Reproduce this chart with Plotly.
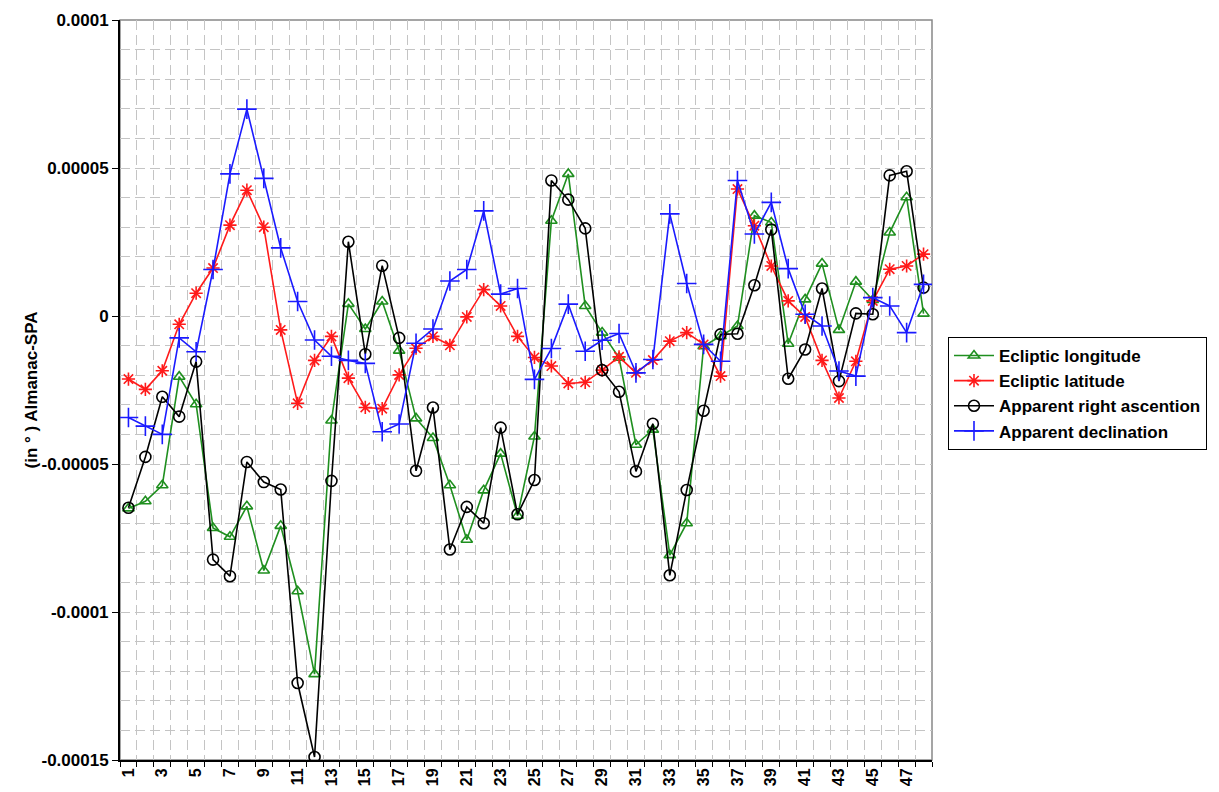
import plotly.graph_objects as go

# sample index 1..48, values in units of 1e-5 degrees
samples = list(range(1, 49))

ecliptic_longitude = [
    -6.5, -6.26, -5.72, -2.05, -2.98, -7.16, -7.46, -6.43, -8.6, -7.09,
    -9.3, -12.1, -3.53, 0.41, -0.44, 0.49, -1.17, -3.46, -4.12, -5.72,
    -7.56, -5.89, -4.65, -6.75, -4.07, 3.22, 4.8, 0.34, -0.56, -1.41,
    -4.35, -3.84, -8.08, -7.0, -1.02, -0.68, -0.34, 3.39, 3.16, -0.94,
    0.56, 1.77, -0.47, 1.16, 0.54, 2.82, 4.01, 0.08,
]
ecliptic_latitude = [
    -2.13, -2.48, -1.85, -0.28, 0.77, 1.62, 3.07, 4.25, 3.0, -0.47,
    -2.95, -1.5, -0.69, -2.1, -3.09, -3.13, -1.99, -1.09, -0.69, -0.99,
    -0.03, 0.89, 0.34, -0.69, -1.4, -1.69, -2.28, -2.24, -1.83, -1.38,
    -1.92, -1.49, -0.85, -0.56, -0.96, -2.03, 4.29, 3.05, 1.69, 0.51,
    -0.03, -1.5, -2.77, -1.53, 0.51, 1.58, 1.69, 2.09,
]
right_ascension = [
    -6.48, -4.76, -2.73, -3.4, -1.54, -8.23, -8.79, -4.93, -5.61, -5.86,
    -12.4, -14.9, -5.57, 2.51, -1.29, 1.7, -0.74, -5.23, -3.09, -7.89,
    -6.45, -7.0, -3.77, -6.7, -5.54, 4.58, 3.93, 2.96, -1.83, -2.56,
    -5.25, -3.64, -8.76, -5.88, -3.2, -0.62, -0.6, 1.04, 2.92, -2.12,
    -1.13, 0.93, -2.2, 0.09, 0.06, 4.75, 4.89, 0.96,
]
declination = [
    -3.43, -3.72, -4.0, -0.74, -1.21, 1.57, 4.8, 6.99, 4.65, 2.3,
    0.49, -0.81, -1.36, -1.5, -1.6, -3.91, -3.65, -0.92, -0.44, 1.18,
    1.57, 3.55, 0.74, 0.93, -2.14, -1.1, 0.4, -1.19, -0.82, -0.59,
    -1.92, -1.47, 3.45, 1.1, -0.96, -1.53, 4.58, 2.77, 3.84, 1.6,
    0.06, -0.34, -1.86, -2.03, 0.62, 0.34, -0.56, 1.07,
]

scale = 1e-5
y_tickvals = [0.0001, 0.00005, 0, -0.00005, -0.0001, -0.00015]
y_ticktext = ["0.0001", "0.00005", "0", "-0.00005", "-0.0001", "-0.00015"]
x_tickvals = list(range(1, 49, 2))

series = [
    ("Ecliptic longitude", ecliptic_longitude, "#1f8f1f", "triangle-up-open", 10),
    ("Ecliptic latitude", ecliptic_latitude, "#ff1a1a", "asterisk-open", 11),
    ("Apparent right ascention", right_ascension, "#000000", "circle-open", 11),
    ("Apparent declination", declination, "#1a1aff", "cross-thin-open", 14),
]

fig = go.Figure()
for name, vals, color, symbol, size in series:
    fig.add_trace(go.Scatter(
        x=samples,
        y=[v * scale for v in vals],
        mode="lines+markers",
        name=name,
        line=dict(color=color, width=1.6),
        marker=dict(symbol=symbol, size=size, color=color,
                    line=dict(color=color, width=1.6)),
    ))

# page body has an 8px margin, so the figure is a bit smaller than the window
grid_color = "#c4c4c4"
fig.update_layout(
    width=1211,
    height=784,
    margin=dict(l=112, r=287, t=12, b=32),
    plot_bgcolor="white",
    paper_bgcolor="white",
    font=dict(family="Liberation Sans, Arial", size=17, color="black"),
    legend=dict(
        x=1.0197, y=0.5716, xanchor="left", yanchor="top",
        bordercolor="black", borderwidth=1,
        font=dict(size=17, weight="bold"),
        tracegroupgap=0, itemwidth=40,
    ),
    xaxis=dict(
        range=[0.5, 48.5], automargin=False,
        tickmode="array", tickvals=x_tickvals,
        ticktext=[str(v) for v in x_tickvals],
        tickangle=-90, ticks="", showgrid=False, zeroline=False,
        showline=True, linecolor="black", linewidth=2,
        tickfont=dict(size=16, weight="bold"),
        minor=dict(tick0=0.5, dtick=1, ticks="outside", ticklen=5,
                   tickcolor="black", showgrid=True, gridcolor=grid_color,
                   griddash="10px,5px", gridwidth=1),
    ),
    yaxis=dict(
        range=[-0.00015, 0.0001], automargin=False,
        tickmode="array", tickvals=y_tickvals, ticktext=y_ticktext,
        ticks="outside", ticklen=6, tickcolor="black",
        showgrid=True, gridcolor=grid_color, griddash="10px,5px",
        zeroline=False, showline=True, linecolor="black", linewidth=2,
        tickfont=dict(size=17, weight="bold"),
        title=dict(text="(in ° ) Almanac-SPA", font=dict(size=17, weight="bold"),
                   standoff=0),
        minor=dict(dtick=0.00001, showgrid=True, gridcolor=grid_color,
                   griddash="10px,5px", gridwidth=1),
    ),
    shapes=[dict(type="rect", xref="paper", yref="paper", x0=0, x1=1, y0=0, y1=1,
                 line=dict(color="#888888", width=1.5), layer="below")],
)

fig.write_html("out.html")
